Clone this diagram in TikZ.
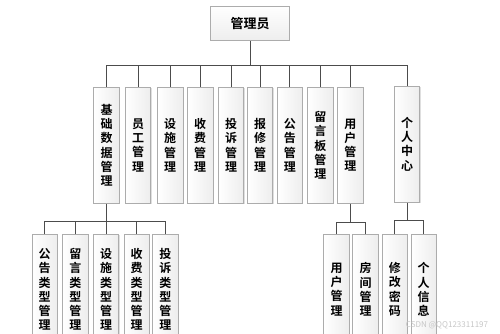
\documentclass[tikz,border=0pt]{standalone}
\usepackage{fontspec}
\setmainfont{Noto Sans CJK SC}[BoldFont={Noto Sans CJK SC Bold}]
\usetikzlibrary{shadows}
\begin{document}
\begin{tikzpicture}[x=1pt,y=-1pt,
  box/.style={draw=gray!65, line width=0.6pt, left color=white, right color=gray!14,
    inner sep=0pt, minimum width=25.5pt, align=center,
    font=\fontsize{12}{14.2}\selectfont\bfseries,
    drop shadow={shadow xshift=0.8pt, shadow yshift=-0.8pt, opacity=0.25, fill=gray}},
  midbox/.style={box, minimum height=116pt},
  lowbox/.style={box, minimum height=110pt},
  conn/.style={draw=black!70, line width=0.9pt}]
\useasboundingbox (0,0) rectangle (500,334);
\clip (0,0) rectangle (500,334);
% top
\node[box, top color=white, bottom color=gray!14, minimum width=78.6pt, minimum height=34.7pt,
  font=\fontsize{13}{15}\selectfont\bfseries] (root) at (250,23.3) {管理员};
% second level
\node[midbox] (m1) at (106.5,145.3) {基\\础\\数\\据\\管\\理};
\node[midbox] (m2) at (138,145.3) {员\\工\\管\\理};
\node[midbox] (m3) at (170.2,145.3) {设\\施\\管\\理};
\node[midbox] (m4) at (200.2,145.3) {收\\费\\管\\理};
\node[midbox] (m5) at (231,145.3) {投\\诉\\管\\理};
\node[midbox] (m6) at (260,145.3) {报\\修\\管\\理};
\node[midbox] (m7) at (289.8,145.3) {公\\告\\管\\理};
\node[midbox] (m8) at (320.3,145.3) {留\\言\\板\\管\\理};
\node[midbox] (m9) at (350.3,145.3) {用\\户\\管\\理};
\node[midbox] (m10) at (407,144.2) {个\\人\\中\\心};
% third level
\node[lowbox] (a1) at (44.7,289.5) {公\\告\\类\\型\\管\\理};
\node[lowbox] (a2) at (75.3,289.5) {留\\言\\类\\型\\管\\理};
\node[lowbox] (a3) at (106,289.5) {设\\施\\类\\型\\管\\理};
\node[lowbox] (a4) at (136.7,289.5) {收\\费\\类\\型\\管\\理};
\node[lowbox] (a5) at (165.3,289.5) {投\\诉\\类\\型\\管\\理};
\node[lowbox] (u1) at (336.5,289.5) {用\\户\\管\\理};
\node[lowbox] (u2) at (365.5,289.5) {房\\间\\管\\理};
\node[lowbox] (p1) at (394.8,289.5) {修\\改\\密\\码};
\node[lowbox] (p2) at (423.7,289.5) {个\\人\\信\\息};
% bus coordinates
\coordinate (busR) at (250,65.7);
\coordinate (busA) at (106.5,221.7);
\coordinate (busU) at (350.3,222.3);
\coordinate (busP) at (407,220.7);
% connectors
\draw[conn] (root.south) -- (busR);
\foreach \n in {m1,m2,m3,m4,m5,m6,m7,m8,m9,m10}
  \draw[conn] (\n.north) |- (busR);
\draw[conn] (m1.south) -- (busA);
\foreach \n in {a1,a2,a3,a4,a5}
  \draw[conn] (\n.north) |- (busA);
\draw[conn] (m9.south) -- (busU);
\foreach \n in {u1,u2}
  \draw[conn] (\n.north) |- (busU);
\draw[conn] (m10.south) -- (busP);
\foreach \n in {p1,p2}
  \draw[conn] (\n.north) |- (busP);
% watermark
\node[text=gray!45, font=\fontsize{8}{9}\selectfont, inner sep=0pt] (wm) at (447,325) {CSDN @QQ123311197};
\end{tikzpicture}
\end{document}
